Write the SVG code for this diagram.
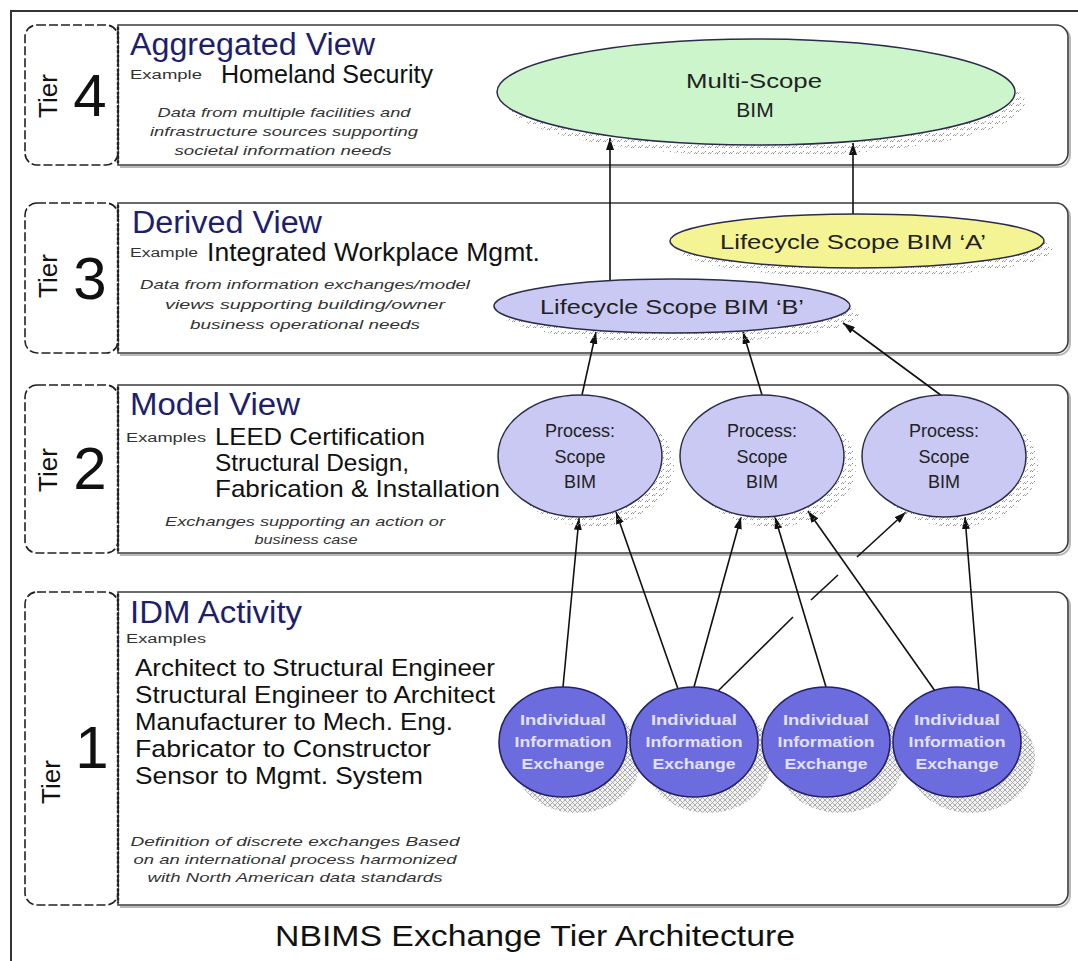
<svg xmlns="http://www.w3.org/2000/svg" width="1078" height="961" viewBox="0 0 1078 961">
  <style>
    text { font-family: "Liberation Sans", Arial, sans-serif; }
    .title { font-size: 31px; fill: #1e1e6e; }
    .ex { font-size: 12px; fill: #333; }
    .big { font-size: 26px; fill: #111; }
    .list { font-size: 24px; fill: #111; }
    .note { font-size: 13px; font-style: italic; fill: #333; text-anchor: middle; }
    .tier { font-size: 26px; fill: #111; text-anchor: middle; }
    .num { font-size: 60px; fill: #111; text-anchor: middle; }
    .panel { fill: #fff; stroke: #3a3a3a; stroke-width: 1.6; }
    .pshadow { fill: none; stroke: #b8b8b8; stroke-width: 2; }
    .tierbox { fill: #fff; stroke: #222; stroke-width: 1.6; stroke-dasharray: 9 3; }
    .tierrule { stroke: #222; stroke-width: 2.4; stroke-dasharray: 3 1.6; }
    .lbl { font-size: 21px; fill: #222; text-anchor: middle; }
    .plbl { font-size: 18px; fill: #222; text-anchor: middle; }
    .ilbl { font-size: 15px; fill: #e2e2ff; text-anchor: middle; font-weight: bold; }
    .node { stroke: #2b2b4a; stroke-width: 1.5; }
    .iie { fill: #6c6cdf; stroke: #22226b; stroke-width: 1.6; }
    .edge { stroke: #111; stroke-width: 1.6; fill: none; marker-end: url(#arrow); }
    .seg { stroke: #111; stroke-width: 1.6; fill: none; }
  </style>
  <defs>
    <marker id="arrow" viewBox="0 0 12 8" refX="12" refY="4" markerWidth="12" markerHeight="8" markerUnits="userSpaceOnUse" orient="auto">
      <path d="M0,0 L12,4 L0,8 z" fill="#111"/>
    </marker>
    <!-- speckled drop shadow used under the ellipses -->
    <pattern id="grain" width="7" height="6" patternUnits="userSpaceOnUse">
      <path d="M1,4 q1.5,-3 3,0 M4.5,2.5 l1.5,-1.5" stroke="#8e8e8e" stroke-width="1" fill="none"/>
    </pattern>
    <!-- cross-hatched drop shadow used under the exchange circles -->
    <pattern id="mesh" width="5" height="5" patternUnits="userSpaceOnUse">
      <rect width="5" height="5" fill="#f2f2f2"/>
      <path d="M0,0 L5,5 M5,0 L0,5" stroke="#a4a4a4" stroke-width="0.9"/>
    </pattern>
  </defs>

  <rect width="1078" height="961" fill="#fff"/>

  <!-- outer frame -->
  <path d="M11,961 V11 H1078" fill="none" stroke="#333" stroke-width="2"/>

  <!-- Tier 4 -->
  <g id="tier4">
    <path class="pshadow" d="M120,27 H1058 A12,12 0 0 1 1070,39 V155 A12,12 0 0 1 1058,167 H120"/>
    <path class="panel" d="M118,25 H1056 A12,12 0 0 1 1068,37 V153 A12,12 0 0 1 1056,165 H118 Z"/>
    <rect class="tierbox" x="25" y="25" width="93" height="140" rx="12"/>
    <line class="tierrule" x1="118" y1="27" x2="118" y2="163"/>
    <text class="tier" transform="translate(57,96) rotate(-90)">Tier</text>
    <text class="num" x="90" y="116">4</text>
    <text class="title" x="130" y="55" textLength="245" lengthAdjust="spacingAndGlyphs">Aggregated View</text>
    <text class="ex" x="130" y="79" textLength="72" lengthAdjust="spacingAndGlyphs">Example</text>
    <text class="big" x="221" y="83" textLength="212" lengthAdjust="spacingAndGlyphs">Homeland Security</text>
    <text class="note" x="284" y="117" textLength="253" lengthAdjust="spacingAndGlyphs">Data from multiple facilities and</text>
    <text class="note" x="284" y="136" textLength="268" lengthAdjust="spacingAndGlyphs">infrastructure sources supporting</text>
    <text class="note" x="283" y="155" textLength="217" lengthAdjust="spacingAndGlyphs">societal information needs</text>
  </g>

  <!-- Tier 3 -->
  <g id="tier3">
    <path class="pshadow" d="M120,205 H1058 A12,12 0 0 1 1070,217 V343 A12,12 0 0 1 1058,355 H120"/>
    <path class="panel" d="M118,203 H1056 A12,12 0 0 1 1068,215 V341 A12,12 0 0 1 1056,353 H118 Z"/>
    <rect class="tierbox" x="25" y="203" width="93" height="150" rx="12"/>
    <line class="tierrule" x1="118" y1="205" x2="118" y2="351"/>
    <text class="tier" transform="translate(57,276) rotate(-90)">Tier</text>
    <text class="num" x="90" y="299">3</text>
    <text class="title" x="132" y="233" textLength="190" lengthAdjust="spacingAndGlyphs">Derived View</text>
    <text class="ex" x="130" y="257" textLength="68" lengthAdjust="spacingAndGlyphs">Example</text>
    <text class="big" x="207" y="261" textLength="333" lengthAdjust="spacingAndGlyphs">Integrated Workplace Mgmt.</text>
    <text class="note" x="305" y="289" textLength="330" lengthAdjust="spacingAndGlyphs">Data from information exchanges/model</text>
    <text class="note" x="305" y="309" textLength="280" lengthAdjust="spacingAndGlyphs">views supporting building/owner</text>
    <text class="note" x="305" y="329" textLength="230" lengthAdjust="spacingAndGlyphs">business operational needs</text>
  </g>

  <!-- Tier 2 -->
  <g id="tier2">
    <path class="pshadow" d="M120,387 H1058 A12,12 0 0 1 1070,399 V543 A12,12 0 0 1 1058,555 H120"/>
    <path class="panel" d="M118,385 H1056 A12,12 0 0 1 1068,397 V541 A12,12 0 0 1 1056,553 H118 Z"/>
    <rect class="tierbox" x="25" y="385" width="93" height="168" rx="12"/>
    <line class="tierrule" x1="118" y1="387" x2="118" y2="551"/>
    <text class="tier" transform="translate(57,470) rotate(-90)">Tier</text>
    <text class="num" x="90" y="489">2</text>
    <text class="title" x="130" y="415" textLength="170" lengthAdjust="spacingAndGlyphs">Model View</text>
    <text class="ex" x="126" y="442" textLength="80" lengthAdjust="spacingAndGlyphs">Examples</text>
    <text class="list" x="215" y="445" textLength="210" lengthAdjust="spacingAndGlyphs">LEED Certification</text>
    <text class="list" x="215" y="471" textLength="194" lengthAdjust="spacingAndGlyphs">Structural Design,</text>
    <text class="list" x="215" y="497" textLength="285" lengthAdjust="spacingAndGlyphs">Fabrication &amp; Installation</text>
    <text class="note" x="305" y="526" textLength="280" lengthAdjust="spacingAndGlyphs">Exchanges supporting an action or</text>
    <text class="note" x="306" y="544" textLength="103" lengthAdjust="spacingAndGlyphs">business case</text>
  </g>

  <!-- Tier 1 -->
  <g id="tier1">
    <path class="pshadow" d="M120,594 H1058 A12,12 0 0 1 1070,606 V895 A12,12 0 0 1 1058,907 H120"/>
    <path class="panel" d="M118,592 H1056 A12,12 0 0 1 1068,604 V893 A12,12 0 0 1 1056,905 H118 Z"/>
    <rect class="tierbox" x="25" y="592" width="93" height="313" rx="12"/>
    <line class="tierrule" x1="118" y1="594" x2="118" y2="903"/>
    <text class="tier" transform="translate(60,782) rotate(-90)">Tier</text>
    <text class="num" x="92" y="768">1</text>
    <text class="title" x="130" y="623" textLength="172" lengthAdjust="spacingAndGlyphs">IDM Activity</text>
    <text class="ex" x="126" y="643" textLength="80" lengthAdjust="spacingAndGlyphs">Examples</text>
    <text class="list" x="135" y="676" textLength="360" lengthAdjust="spacingAndGlyphs">Architect to Structural Engineer</text>
    <text class="list" x="135" y="703" textLength="360" lengthAdjust="spacingAndGlyphs">Structural Engineer to Architect</text>
    <text class="list" x="135" y="730" textLength="318" lengthAdjust="spacingAndGlyphs">Manufacturer to Mech. Eng.</text>
    <text class="list" x="135" y="757" textLength="296" lengthAdjust="spacingAndGlyphs">Fabricator to Constructor</text>
    <text class="list" x="135" y="784" textLength="288" lengthAdjust="spacingAndGlyphs">Sensor to Mgmt. System</text>
    <text class="note" x="295" y="846" textLength="329" lengthAdjust="spacingAndGlyphs">Definition of discrete exchanges  Based</text>
    <text class="note" x="295" y="864" textLength="323" lengthAdjust="spacingAndGlyphs">on an international process harmonized</text>
    <text class="note" x="295" y="882" textLength="295" lengthAdjust="spacingAndGlyphs">with North American data standards</text>
  </g>

  <!-- connectors -->
  <g id="connectors">
    <path class="edge" d="M610,281 L610,138"/>
    <path class="edge" d="M853,214 L853,143"/>
    <path class="edge" d="M582,395 L596,332"/>
    <path class="edge" d="M762,395 L743,332"/>
    <path class="edge" d="M942,396 L843,323"/>
    <path class="edge" d="M563,687 L579,518"/>
    <path class="edge" d="M678,689 L616,512"/>
    <path class="edge" d="M694,687 L741,517"/>
    <path class="edge" d="M826,687 L775,517"/>
    <path class="edge" d="M935,691 L808,511"/>
    <path class="edge" d="M979,691 L965,517"/>
    <!-- line with hops where it crosses two other connectors -->
    <path class="seg" d="M717,692 L793,617"/>
    <path class="seg" d="M811,600 L838,575"/>
    <path class="edge" d="M857,557 L906,512"/>
  </g>

  <!-- Tier 4 node -->
  <g id="multi-scope-bim">
    <ellipse cx="766" cy="102" rx="259" ry="54" fill="url(#grain)"/>
    <ellipse class="node" cx="756" cy="92" rx="259" ry="53" fill="#ccf5cc"/>
    <text class="lbl" x="754" y="88" textLength="136" lengthAdjust="spacingAndGlyphs">Multi-Scope</text>
    <text class="lbl" x="755" y="117">BIM</text>
  </g>

  <!-- Tier 3 nodes -->
  <g id="lifecycle-a">
    <ellipse cx="866" cy="250" rx="187" ry="27" fill="url(#grain)"/>
    <ellipse class="node" cx="857" cy="241" rx="187" ry="27" fill="#f4f494"/>
    <text class="lbl" x="853" y="249" textLength="266" lengthAdjust="spacingAndGlyphs">Lifecycle Scope BIM ‘A’</text>
  </g>
  <g id="lifecycle-b">
    <ellipse cx="681" cy="315" rx="178" ry="27" fill="url(#grain)"/>
    <ellipse class="node" cx="672" cy="306" rx="178" ry="27" fill="#c9c9f3"/>
    <text class="lbl" x="672" y="314" textLength="264" lengthAdjust="spacingAndGlyphs">Lifecycle Scope BIM ‘B’</text>
  </g>

  <!-- Tier 2 nodes -->
  <g id="process-1">
    <ellipse cx="592" cy="466" rx="82" ry="61" fill="url(#grain)"/>
    <ellipse class="node" cx="580" cy="456" rx="82" ry="61" fill="#c9c9f3"/>
    <text class="plbl" x="580" y="437">Process:</text>
    <text class="plbl" x="580" y="463">Scope</text>
    <text class="plbl" x="580" y="488">BIM</text>
  </g>
  <g id="process-2">
    <ellipse cx="774" cy="466" rx="82" ry="61" fill="url(#grain)"/>
    <ellipse class="node" cx="762" cy="456" rx="82" ry="61" fill="#c9c9f3"/>
    <text class="plbl" x="762" y="437">Process:</text>
    <text class="plbl" x="762" y="463">Scope</text>
    <text class="plbl" x="762" y="488">BIM</text>
  </g>
  <g id="process-3">
    <ellipse cx="956" cy="466" rx="82" ry="61" fill="url(#grain)"/>
    <ellipse class="node" cx="944" cy="456" rx="82" ry="61" fill="#c9c9f3"/>
    <text class="plbl" x="944" y="437">Process:</text>
    <text class="plbl" x="944" y="463">Scope</text>
    <text class="plbl" x="944" y="488">BIM</text>
  </g>

  <!-- Tier 1 nodes: shadows first so each circle overlaps its neighbour's shadow -->
  <g id="exchange-shadows">
    <ellipse cx="577" cy="758" rx="64" ry="55" fill="url(#mesh)"/>
    <ellipse cx="708" cy="758" rx="64" ry="55" fill="url(#mesh)"/>
    <ellipse cx="840" cy="758" rx="64" ry="55" fill="url(#mesh)"/>
    <ellipse cx="971" cy="758" rx="64" ry="55" fill="url(#mesh)"/>
  </g>
  <g id="exchange-1">
    <ellipse class="iie" cx="563" cy="742" rx="64" ry="55"/>
    <text class="ilbl" x="563" y="725" textLength="86" lengthAdjust="spacingAndGlyphs">Individual</text>
    <text class="ilbl" x="563" y="747" textLength="97" lengthAdjust="spacingAndGlyphs">Information</text>
    <text class="ilbl" x="563" y="769" textLength="83" lengthAdjust="spacingAndGlyphs">Exchange</text>
  </g>
  <g id="exchange-2">
    <ellipse class="iie" cx="694" cy="742" rx="64" ry="55"/>
    <text class="ilbl" x="694" y="725" textLength="86" lengthAdjust="spacingAndGlyphs">Individual</text>
    <text class="ilbl" x="694" y="747" textLength="97" lengthAdjust="spacingAndGlyphs">Information</text>
    <text class="ilbl" x="694" y="769" textLength="83" lengthAdjust="spacingAndGlyphs">Exchange</text>
  </g>
  <g id="exchange-3">
    <ellipse class="iie" cx="826" cy="742" rx="64" ry="55"/>
    <text class="ilbl" x="826" y="725" textLength="86" lengthAdjust="spacingAndGlyphs">Individual</text>
    <text class="ilbl" x="826" y="747" textLength="97" lengthAdjust="spacingAndGlyphs">Information</text>
    <text class="ilbl" x="826" y="769" textLength="83" lengthAdjust="spacingAndGlyphs">Exchange</text>
  </g>
  <g id="exchange-4">
    <ellipse class="iie" cx="957" cy="742" rx="64" ry="55"/>
    <text class="ilbl" x="957" y="725" textLength="86" lengthAdjust="spacingAndGlyphs">Individual</text>
    <text class="ilbl" x="957" y="747" textLength="97" lengthAdjust="spacingAndGlyphs">Information</text>
    <text class="ilbl" x="957" y="769" textLength="83" lengthAdjust="spacingAndGlyphs">Exchange</text>
  </g>

  <!-- caption -->
  <text x="535" y="946" font-size="30" fill="#111" text-anchor="middle" textLength="520" lengthAdjust="spacingAndGlyphs">NBIMS Exchange Tier Architecture</text>
</svg>
